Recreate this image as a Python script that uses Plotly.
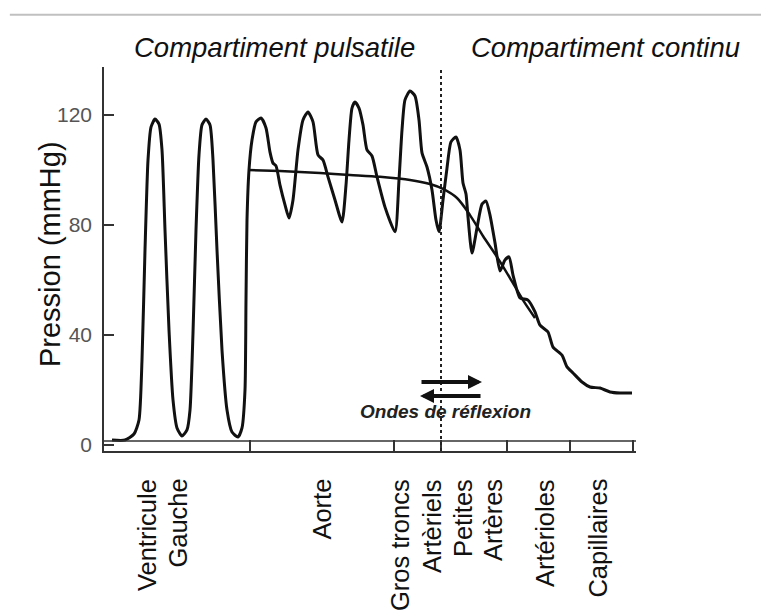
import plotly.graph_objects as go

# ---- data (position: arbitrary distance units, pressure: mmHg) ----
position = [2, 5.25, 7.5, 8.75, 9.5, 10.25, 11, 11.75, 12.75, 13.75, 14.5, 15.25, 16.25, 17.25, 18.25,
            19.5, 20.75, 21.5, 22.25, 23, 23.75, 24.5, 25.5, 26.5, 27.25, 28.25, 29.5, 30.75, 32, 33.5,
            34.5, 35.25, 35.5, 35.75, 36.25, 37, 38, 39.25, 40.5, 41.5, 42.25, 43, 44, 45.25, 46.25,
            47.25, 48.5, 49.75, 51, 52.25, 53.5, 54.75, 56, 57.75, 59.5,
            60.5, 61.25, 62, 62.75, 63.75, 64.75, 65.75, 67, 68.25, 70.25, 72.75,
            73.75, 74.5, 75.25, 76.5, 77.75, 78.75, 79.5, 80.75, 82, 83, 83.75,
            84.75, 85.75, 86.75, 88, 89, 89.75, 90.5, 91, 92,
            93.25, 94.5, 95.5, 96.5, 97.75, 99, 100.25, 101.25, 102.25, 104, 106, 107.75, 109, 111,
            112.25, 114.5, 115.75, 117.25, 119.5, 121.5, 124, 126.5, 129, 132]
pressure = [1.8, 1.8, 4.0, 9.1, 30.9, 70.9, 103.6, 115.6, 118.5, 116.7, 107.3, 78.2, 41.8, 16.4, 6.2,
            3.3, 5.5, 12.7, 40.7, 78.2, 105.5, 116.4, 118.5, 116.4, 103.6, 70.9, 34.5, 12.7, 4.7, 2.9,
            6.2, 20, 52.7, 81.8, 100, 110.9, 117.5, 118.9, 115.3, 106.5, 102.5, 101.5, 94.5, 87.3, 82.5,
            89.1, 107.3, 118.2, 121.1, 117.5, 105.5, 103.6, 97.5, 89.1, 81.1,
            94.5, 110.9, 122.5, 124.7, 122.5, 116.4, 107.3, 105.1, 97.5, 86.5, 77.5,
            96.4, 114.5, 125.5, 128.7, 126.9, 118.2, 106.2, 101.1, 92.7, 81.8, 77.5,
            89.1, 100.7, 110.2, 112, 107.3, 95.3, 91.3, 82.9, 69.8,
            78.9, 87.6, 88.7, 83.6, 73.5, 63.3, 67.3, 68.4, 61.8, 53.5, 52.7, 48.4, 43.6, 41.1,
            35.6, 32.7, 28.4, 26.2, 22.9, 21.1, 20.7, 19.3, 18.9, 18.9]

mean_position = [36.25, 44, 54, 61.5, 69, 76.5, 81.5, 84.75, 88.25, 91.5, 94.75, 98.25, 101.5, 104.75, 107.75]
mean_pressure = [100, 99.6, 98.9, 98.2, 97.5, 96.4, 94.9, 93.1, 89.8, 83.6, 76, 68.4, 60.7, 52.7, 46.2]

boundary_pos = [36.5, 72.5, 84.25, 100.75, 116.5, 132.25]
segment_labels = ["Ventricule", "Gauche", "Aorte", "Gros troncs", "Artèriels",
                  "Petites", "Artères", "Artérioles", "Capillaires"]
segment_label_pos = [10.75, 18.5, 54.5, 74, 82, 89.75, 97.25, 110.25, 123.5]
y_ticks = [0, 40, 80, 120]
transition_pos = 84.25
arrow_x = [79, 94.5]
arrow_y = [22.9, 17.8]
reflection_label = "Ondes de réflexion"
reflection_label_pos = (85.25, 12.2)
compartment_titles = ["Compartiment pulsatile", "Compartiment continu"]
compartment_title_x = [0.3214, 0.9436]

FONT = "Liberation Sans, Arial, sans-serif"
X_RANGE = [0, 133]
Y_RANGE = [-2.18, 137.45]

fig = go.Figure()
fig.add_trace(go.Scatter(x=position, y=pressure, mode="lines",
                         line=dict(color="#111111", width=3, shape="spline", smoothing=0.6),
                         hoverinfo="skip", showlegend=False))
fig.add_trace(go.Scatter(x=mean_position, y=mean_pressure, mode="lines",
                         line=dict(color="#111111", width=2.5, shape="spline", smoothing=0.8),
                         hoverinfo="skip", showlegend=False))

# inner baseline of the double x axis
fig.add_shape(type="line", xref="x", yref="y", x0=X_RANGE[0], x1=X_RANGE[1], y0=1.45, y1=1.45,
              line=dict(color="#333333", width=1.5))
# dotted transition line
fig.add_shape(type="line", xref="x", yref="paper", x0=transition_pos, x1=transition_pos, y0=0, y1=1,
              line=dict(color="#222222", width=2, dash="dot"))
# top grey rule
fig.add_shape(type="line", xref="paper", yref="paper", x0=-0.177, x1=1.26, y0=1.136, y1=1.136,
              line=dict(color="#c0c0c0", width=2))

annotations = []
# reflection arrows
annotations.append(dict(x=arrow_x[1], y=arrow_y[0], ax=arrow_x[0], ay=arrow_y[0], xref="x", yref="y",
                        axref="x", ayref="y", showarrow=True, arrowhead=2, arrowsize=0.7,
                        arrowwidth=4, arrowcolor="#111111", text=""))
annotations.append(dict(x=arrow_x[0], y=arrow_y[1], ax=arrow_x[1], ay=arrow_y[1], xref="x", yref="y",
                        axref="x", ayref="y", showarrow=True, arrowhead=2, arrowsize=0.7,
                        arrowwidth=4, arrowcolor="#111111", text=""))
annotations.append(dict(x=reflection_label_pos[0], y=reflection_label_pos[1], xref="x", yref="y",
                        xanchor="center", yanchor="middle",
                        text="<b><i>" + reflection_label + "</i></b>", showarrow=False,
                        font=dict(family=FONT, size=19, color="#222222")))
# compartment titles
for title, px in zip(compartment_titles, compartment_title_x):
    annotations.append(dict(x=px, y=1.052, xref="paper", yref="paper", text="<i>" + title + "</i>",
                            xanchor="center", yanchor="middle",
                            showarrow=False, font=dict(family=FONT, size=27.5, color="#111111")))
# y title
annotations.append(dict(x=-0.1015, y=0.513, xref="paper", yref="paper", text="Pression (mmHg)",
                        xanchor="center", yanchor="middle",
                        textangle=-90, showarrow=False, font=dict(family=FONT, size=29, color="#111111")))
# segment labels
for lab, xp in zip(segment_labels, segment_label_pos):
    annotations.append(dict(x=xp, y=-0.068, xref="x", yref="paper", text=lab, textangle=-90,
                            xanchor="center", yanchor="top", showarrow=False,
                            font=dict(family=FONT, size=25.5, color="#111111")))

fig.update_layout(
    width=761, height=607,
    margin=dict(l=96, r=133, t=59, b=164),
    paper_bgcolor="white", plot_bgcolor="white",
    annotations=annotations,
    xaxis=dict(range=X_RANGE, showgrid=False, zeroline=False, showline=True, linecolor="#333333",
               linewidth=1.5, ticks="inside", tickvals=boundary_pos, ticklen=11, tickwidth=1.5,
               tickcolor="#333333", showticklabels=False),
    yaxis=dict(range=Y_RANGE, showgrid=False, zeroline=False, showline=True, linecolor="#333333",
               linewidth=1.5, ticks="inside", tickvals=y_ticks, ticklen=10, tickwidth=1.5,
               tickcolor="#333333", tickfont=dict(family=FONT, size=21, color="#555555"),
               ticklabelstandoff=6),
)

fig.write_html("out.html")
